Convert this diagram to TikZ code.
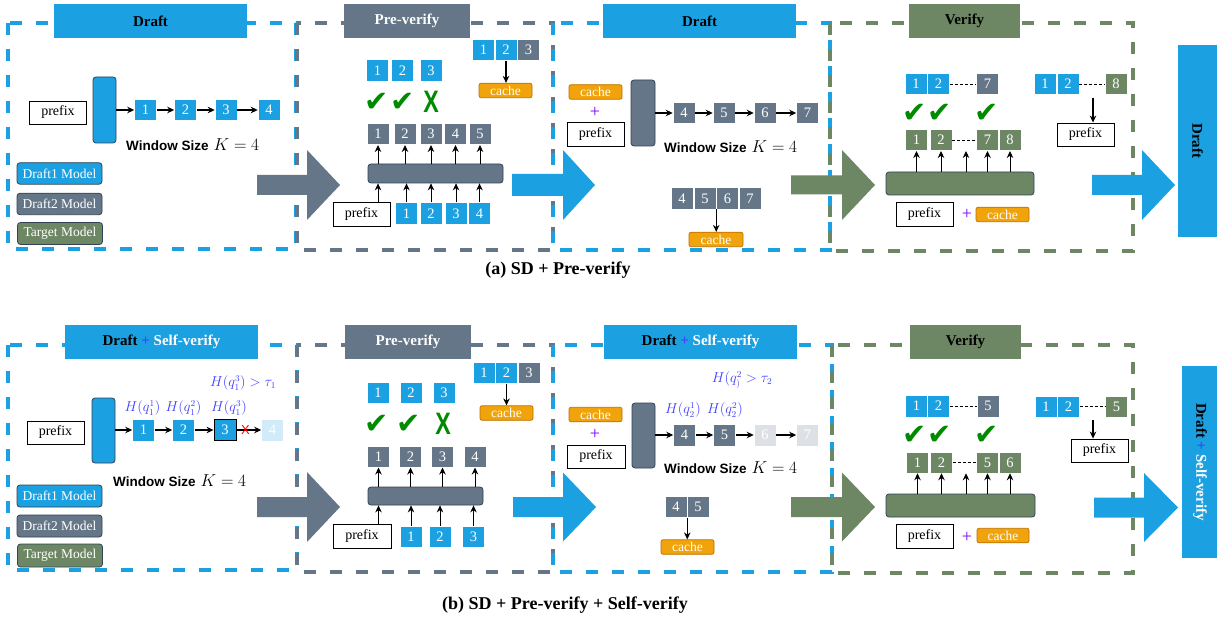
\documentclass[tikz,border=0pt]{standalone}
\usepackage[no-math]{fontspec}
\setmainfont{Liberation Serif}
\newfontfamily\wsfont{Liberation Sans}
\newfontfamily\djv{DejaVu Sans}
\usetikzlibrary{arrows.meta,calc}
\definecolor{cblue}{HTML}{1BA1E2}
\definecolor{cgray}{HTML}{647687}
\definecolor{cgreen}{HTML}{6D8764}
\definecolor{corange}{HTML}{F0A30A}
\definecolor{orangeb}{HTML}{BD7000}
\definecolor{cdark}{HTML}{314354}
\definecolor{fadeblue}{HTML}{D1EBF8}
\definecolor{fadegray}{HTML}{DDE1E6}
\definecolor{hblue}{HTML}{4040FF}
\definecolor{cpurple}{HTML}{7F00FF}
\definecolor{ckgreen}{HTML}{008A00}
\newcommand{\setfs}[1]{\fontsize{#1}{#1}\selectfont}
\newcommand{\bigarr}[7]{\fill[#1] (#2,#5-#6) -- (#3,#5-#6) -- (#3,#5-#7) -- (#4,#5) -- (#3,#5+#7) -- (#3,#5+#6) -- (#2,#5+#6) -- cycle;}
\newcommand{\wstext}{{\wsfont\bfseries\setfs{13.5}Window Size}\hspace{5pt}{\setfs{16}$K=4$}}
\begin{document}
\begin{tikzpicture}[x=1pt,y=-1pt,
  tok/.style={minimum width=22pt,minimum height=21.5pt,inner sep=0pt,text=white,font={\setfs{14.5}},draw=white,line width=0.5pt},
  tb/.style={tok,fill=cblue}, tg/.style={tok,fill=cgray}, tgr/.style={tok,fill=cgreen},
  tfb/.style={tok,fill=fadeblue}, tfg/.style={tok,fill=fadegray},
  pfx/.style={draw=black,fill=white,line width=0.9pt,minimum width=57pt,minimum height=23pt,inner sep=0pt,font={\setfs{14}}},
  cch/.style={fill=corange,draw=orangeb,line width=0.7pt,rounded corners=2pt,minimum width=53pt,minimum height=14.5pt,inner sep=0pt,text=white,font={\setfs{13.5}}},
  mdl/.style={draw=cdark,line width=0.8pt,rounded corners=3pt,inner sep=0pt},
  leg/.style={mdl,minimum width=85pt,minimum height=21.5pt,text=white,font={\setfs{13.5}}},
  ttl/.style={minimum height=34pt,inner sep=0pt,font={\setfs{15}\bfseries}},
  pnl/.style={line width=3.5pt,dash pattern=on 12pt off 14pt},
  sarr/.style={-{Stealth[length=7pt,width=6.5pt]},line width=1.1pt,black},
  uarr/.style={-{Stealth[length=7pt,width=6.5pt]},line width=0.9pt,black},
  dl/.style={dash pattern=on 3pt off 2pt,line width=0.8pt,black},
  ck/.style={text=ckgreen,font={\djv\setfs{29}},inner sep=0pt},
  xk/.style={text=ckgreen,font={\wsfont\bfseries\setfs{31}},inner sep=0pt},
  pl/.style={text=cpurple,font={\setfs{18}},inner sep=0pt},
  hl/.style={text=hblue,font={\setfs{13.5}},inner sep=0pt},
  captxt/.style={font={\setfs{18}\bfseries},inner sep=0pt},
  wsn/.style={anchor=west,inner sep=0pt}]
\useasboundingbox (0,0) rectangle (1217,617);
\fill[white] (0,0) rectangle (1217,617);

% ================= (a) =================
\draw[pnl,cblue] (8,23) rectangle (296,249);
\draw[pnl,cgray] (297,23) rectangle (553,250);
\draw[pnl,cblue] (553,23) rectangle (830,250);
\draw[pnl,cgreen] (830,23) rectangle (1133,251);

\bigarr{cgray}{257}{307}{340}{185}{10}{35}
\bigarr{cblue}{512}{563}{595}{185}{11}{35}
\bigarr{cgreen}{791}{842}{875}{185}{9.5}{35}
\bigarr{cblue}{1092}{1142}{1175}{185}{10}{35}

\node[ttl,fill=cblue,minimum width=193pt] (ta1) at (150.5,21) {Draft};
\node[ttl,fill=cgray,minimum width=126pt,text=white] (ta2) at (407,21) {Pre-verify};
\node[ttl,fill=cblue,minimum width=193pt] (ta3) at (699.5,21) {Draft};
\node[ttl,fill=cgreen,minimum width=111pt] (ta4) at (964.5,21) {Verify};
\node[ttl,fill=cblue,rotate=-90,minimum width=192pt,minimum height=39pt] (ta5) at (1197.5,141) {Draft};

% a1
\node[pfx] (a1p) at (58,112.5) {prefix};
\node[mdl,fill=cblue,minimum width=23pt,minimum height=66pt] (a1m) at (104.5,110) {};
\node[tb] (a1t1) at (145.5,110) {1};
\node[tb] (a1t2) at (185.5,110) {2};
\node[tb] (a1t3) at (226,110) {3};
\node[tb] (a1t4) at (269,110) {4};
\draw[sarr] (a1m.east |- a1t1) -- (a1t1);
\draw[sarr] (a1t1) -- (a1t2);
\draw[sarr] (a1t2) -- (a1t3);
\draw[sarr] (a1t3) -- (a1t4);
\node[wsn] (a1w) at (126,145) {\wstext};
\node[leg,fill=cblue] (a1l1) at (59.5,173.5) {Draft1 Model};
\node[leg,fill=cgray] (a1l2) at (59.5,204) {Draft2 Model};
\node[leg,fill=cgreen,minimum height=22pt] (a1l3) at (60,233.5) {Target Model};

% a2
\node[tb] (a2u1) at (377.5,70.5) {1};
\node[tb] (a2u2) at (402.5,70.5) {2};
\node[tb] (a2u3) at (431,70.5) {3};
\node[ck] (a2c1) at (377,102) {✔};
\node[ck] (a2c2) at (403,102) {✔};
\node[xk] (a2x) at (431,102) {\scalebox{0.75}[1]{X}};
\node[tg] (a2g1) at (378,134) {1};
\node[tg] (a2g2) at (405,134) {2};
\node[tg] (a2g3) at (431,134) {3};
\node[tg] (a2g4) at (455.5,134) {4};
\node[tg] (a2g5) at (480,134) {5};
\node[mdl,fill=cgray,minimum width=135pt,minimum height=19pt] (a2b) at (435.5,173.5) {};
\foreach \i in {1,...,5} {\draw[uarr] (a2b.north -| a2g\i) -- (a2g\i.south);}
\node[pfx,minimum height=24pt] (a2p) at (361.5,214) {prefix};
\node[tb] (a2d1) at (406.5,213.5) {1};
\node[tb] (a2d2) at (431,213.5) {2};
\node[tb] (a2d3) at (456,213.5) {3};
\node[tb] (a2d4) at (479.5,213.5) {4};
\draw[uarr] (a2p.north -| a2g1) -- (a2b.south -| a2g1);
\foreach \i in {1,...,4} {\draw[uarr] (a2d\i) -- (a2b.south -| a2d\i);}
\node[tb] (a2r1) at (483.5,50) {1};
\node[tb] (a2r2) at (506,50) {2};
\node[tg] (a2r3) at (528.5,50) {3};
\node[cch] (a2k) at (505.5,90.5) {cache};
\draw[sarr] (a2r2.south) -- (a2r2.south |- a2k.north);

% a3
\node[cch] (a3k) at (595.5,92) {cache};
\node[pl] (a3pl) at (595,112) {+};
\node[pfx,minimum height=24pt] (a3p) at (595.5,134) {prefix};
\node[mdl,fill=cgray,minimum width=24pt,minimum height=66pt] (a3m) at (643,113) {};
\node[tg] (a3t4) at (684,113) {4};
\node[tg] (a3t5) at (724,113) {5};
\node[tg] (a3t6) at (765,113) {6};
\node[tg] (a3t7) at (807.5,113) {7};
\draw[sarr] (a3m.east |- a3t4) -- (a3t4);
\draw[sarr] (a3t4) -- (a3t5);
\draw[sarr] (a3t5) -- (a3t6);
\draw[sarr] (a3t6) -- (a3t7);
\node[wsn] (a3w) at (664,147) {\wstext};
\node[tg] (a3b4) at (682,198.5) {4};
\node[tg] (a3b5) at (705,198.5) {5};
\node[tg] (a3b6) at (727.5,198.5) {6};
\node[tg] (a3b7) at (750,198.5) {7};
\node[cch,minimum width=54pt] (a3k2) at (716,239.5) {cache};
\draw[sarr] (a3b5.south east) -- (a3b5.south east |- a3k2.north);

% a4
\node[tb] (a4u1) at (916,84) {1};
\node[tb] (a4u2) at (938.5,84) {2};
\node[tg] (a4u7) at (987.5,84) {7};
\draw[dl] (a4u2) -- (a4u7);
\node[ck] (a4c1) at (915,113) {✔};
\node[ck] (a4c2) at (940,113) {✔};
\node[ck] (a4c3) at (987,113) {✔};
\node[tgr] (a4g1) at (916.5,140) {1};
\node[tgr] (a4g2) at (941,140) {2};
\node[tgr] (a4g7) at (987.5,140) {7};
\node[tgr] (a4g8) at (1010,140) {8};
\draw[dl] (a4g2) -- (a4g7);
\node[mdl,fill=cgreen,minimum width=148pt,minimum height=23pt] (a4b) at (960,183.5) {};
\coordinate (a4gap) at (966,151);
\foreach \n in {a4g1,a4g2,a4gap,a4g7,a4g8} {\draw[uarr] (a4b.north -| \n) -- (\n |- a4gap);}
\node[pfx,minimum height=24pt] (a4p) at (924.5,214) {prefix};
\node[pl] (a4pl) at (967,214) {+};
\node[cch] (a4k) at (1002.5,214.5) {cache};
\node[tb] (a4r1) at (1045,84) {1};
\node[tb] (a4r2) at (1068,84) {2};
\node[tgr] (a4r8) at (1116,84) {8};
\draw[dl] (a4r2) -- (a4r8);
\coordinate (a4rm) at (1093,98);
\node[pfx] (a4rp) at (1085.5,134.5) {prefix};
\draw[sarr] (a4rm) -- (a4rm |- a4rp.north);

\node[captxt] (capa) at (558,270) {(a) SD + Pre-verify};

% ================= (b) =================
\draw[pnl,cblue] (8,345) rectangle (297,570);
\draw[pnl,cgray] (297,345) rectangle (553,572);
\draw[pnl,cblue] (553,345) rectangle (832,572);
\draw[pnl,cgreen] (832,345) rectangle (1133,573);

\bigarr{cgray}{257}{307}{340}{507}{10}{35}
\bigarr{cblue}{513}{563}{596}{507}{10}{34.5}
\bigarr{cgreen}{791}{842}{875}{507}{10}{34.5}
\bigarr{cblue}{1094}{1144}{1178}{507.5}{10}{34.5}

\node[ttl,fill=cblue,minimum width=193pt] (tb1) at (161.5,342) {Draft {\color{hblue}+} {\color{white}Self-verify}};
\node[ttl,fill=cgray,text=white,minimum width=126pt] (tb2) at (408,342) {Pre-verify};
\node[ttl,fill=cblue,minimum width=193pt] (tb3) at (700.5,342) {Draft {\color{hblue}+} {\color{white}Self-verify}};
\node[ttl,fill=cgreen,minimum width=111pt] (tb4) at (965.5,342) {Verify};
\node[ttl,fill=cblue,rotate=-90,minimum width=192pt,minimum height=36pt] (tb5) at (1200,462) {Draft {\color{hblue}+} {\color{white}Self-verify}};

% b1
\node[pfx] (b1p) at (55.5,432.5) {prefix};
\node[mdl,fill=cblue,minimum width=23pt,minimum height=65pt] (b1m) at (103.5,430.5) {};
\node[tb] (b1t1) at (143.5,430) {1};
\node[tb] (b1t2) at (183.5,430) {2};
\node[tb,draw=black,line width=0.9pt] (b1t3) at (225,430) {3};
\node[tfb] (b1t4) at (272.5,430) {4};
\draw[sarr] (b1m.east |- b1t1) -- (b1t1);
\draw[sarr] (b1t1) -- (b1t2);
\draw[sarr] (b1t2) -- (b1t3);
\draw[sarr] (b1t3) -- (b1t4);
\node[text=red,font={\wsfont\setfs{13}},inner sep=0pt] (b1x) at (245.5,430) {X};
\node[hl] (b1h1) at (142.5,408) {$H(q_1^1)$};
\node[hl] (b1h2) at (183.5,408) {$H(q_1^2)$};
\node[hl] (b1h3) at (229,408) {$H(q_1^3)$};
\node[hl] (b1h) at (243,383) {$H(q_1^3) > \tau_1$};
\node[wsn] (b1w) at (113,481) {\wstext};
\node[leg,fill=cblue,minimum height=22pt] (b1l1) at (59.5,496) {Draft1 Model};
\node[leg,fill=cgray,minimum height=22pt] (b1l2) at (59.5,526) {Draft2 Model};
\node[leg,fill=cgreen,minimum height=23pt] (b1l3) at (60,555.5) {Target Model};

% b2
\node[tb] (b2u1) at (378,392.5) {1};
\node[tb] (b2u2) at (411,392.5) {2};
\node[tb] (b2u3) at (444,392.5) {3};
\node[ck] (b2c1) at (377,424) {✔};
\node[ck] (b2c2) at (409,424) {✔};
\node[xk] (b2x) at (443,424) {\scalebox{0.75}[1]{X}};
\node[tg] (b2g1) at (378.5,456.5) {1};
\node[tg] (b2g2) at (410.5,456.5) {2};
\node[tg] (b2g3) at (442.5,456.5) {3};
\node[tg] (b2g4) at (475,456.5) {4};
\node[mdl,fill=cgray,minimum width=115pt,minimum height=18pt] (b2b) at (425.5,496) {};
\foreach \i in {1,...,4} {\draw[uarr] (b2b.north -| b2g\i) -- (b2g\i.south);}
\node[pfx,minimum width=58pt,minimum height=24pt] (b2p) at (362,536) {prefix};
\node[tb] (b2d1) at (411,536.5) {1};
\node[tb] (b2d2) at (440,536.5) {2};
\node[tb] (b2d3) at (473.5,536.5) {3};
\draw[uarr] (b2p.north -| b2g1) -- (b2b.south -| b2g1);
\foreach \i in {1,...,3} {\draw[uarr] (b2d\i) -- (b2b.south -| b2d\i);}
\node[tb] (b2r1) at (484,372.5) {1};
\node[tb] (b2r2) at (506.5,372.5) {2};
\node[tg] (b2r3) at (529,372.5) {3};
\node[cch] (b2k) at (506.5,413) {cache};
\draw[sarr] (b2r2.south) -- (b2r2.south |- b2k.north);

% b3
\node[hl] (b3h) at (742,380) {$H(q_{)}^{2} > \tau_2$};
\node[cch] (b3k) at (595.5,414.5) {cache};
\node[pl] (b3pl) at (595,434) {+};
\node[pfx,minimum width=58pt] (b3p) at (596,456.5) {prefix};
\node[mdl,fill=cgray,minimum width=23pt,minimum height=65pt] (b3m) at (643.5,435.5) {};
\node[tg] (b3t4) at (684.5,435) {4};
\node[tg] (b3t5) at (724.5,435) {5};
\node[tfg] (b3t6) at (765,435) {6};
\node[tfg] (b3t7) at (807.5,435) {7};
\draw[sarr] (b3m.east |- b3t4) -- (b3t4);
\draw[sarr] (b3t4) -- (b3t5);
\draw[sarr] (b3t5) -- (b3t6);
\draw[sarr] (b3t6) -- (b3t7);
\node[hl] (b3h1) at (683,410) {$H(q_2^1)$};
\node[hl] (b3h2) at (725,410) {$H(q_2^2)$};
\node[wsn] (b3w) at (664,468) {\wstext};
\node[tg] (b3b4) at (676,506.5) {4};
\node[tg] (b3b5) at (698,506.5) {5};
\node[cch] (b3k2) at (687.5,547) {cache};
\draw[sarr] (b3b4.south east) -- (b3b4.south east |- b3k2.north);

% b4
\node[tb] (b4u1) at (916.5,406) {1};
\node[tb] (b4u2) at (938.5,406) {2};
\node[tg] (b4u5) at (988,406) {5};
\draw[dl] (b4u2) -- (b4u5);
\node[ck] (b4c1) at (915,435.5) {✔};
\node[ck] (b4c2) at (940,435.5) {✔};
\node[ck] (b4c3) at (987,435.5) {✔};
\node[tgr] (b4g1) at (917.5,462.5) {1};
\node[tgr] (b4g2) at (941.5,462.5) {2};
\node[tgr] (b4g5) at (987.5,462.5) {5};
\node[tgr] (b4g6) at (1010,462.5) {6};
\draw[dl] (b4g2) -- (b4g5);
\node[mdl,fill=cgreen,minimum width=149pt,minimum height=23pt] (b4b) at (960.5,505.5) {};
\coordinate (b4gap) at (966,473.25);
\foreach \n in {b4g1,b4g2,b4gap,b4g5,b4g6} {\draw[uarr] (b4b.north -| \n) -- (\n |- b4gap);}
\node[pfx,minimum height=24pt] (b4p) at (924.5,536) {prefix};
\node[pl] (b4pl) at (967,537) {+};
\node[cch,minimum width=52pt] (b4k) at (1003,535.5) {cache};
\node[tb] (b4r1) at (1046,406.5) {1};
\node[tb] (b4r2) at (1068.5,406.5) {2};
\node[tgr] (b4r5) at (1116.5,406.5) {5};
\draw[dl] (b4r2) -- (b4r5);
\coordinate (b4rm) at (1093,420);
\node[pfx] (b4rp) at (1099.5,450.5) {prefix};
\draw[sarr] (b4rm) -- (b4rm |- b4rp.north);

\node[captxt] (capb) at (565,605) {(b) SD + Pre-verify + Self-verify};
\end{tikzpicture}
\end{document}
